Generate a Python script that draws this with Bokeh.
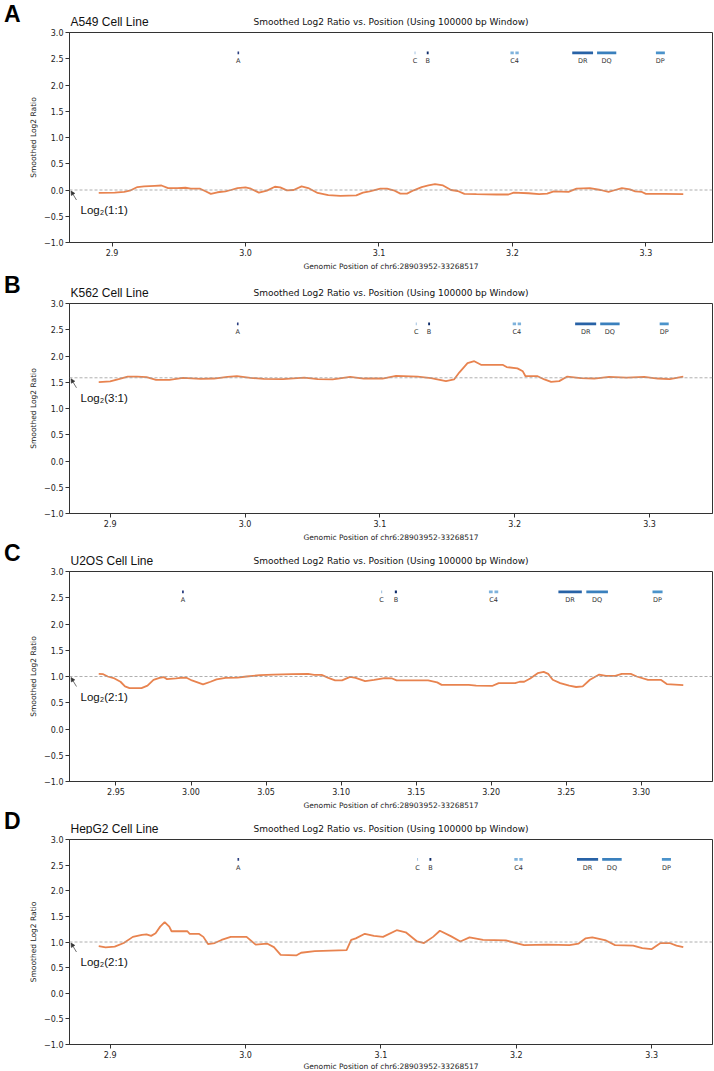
import math
from bokeh.plotting import figure
from bokeh.layouts import column
from bokeh.models import Arrow, NormalHead, FixedTicker, Range1d, Span, Label
from bokeh.core.properties import value
from bokeh.embed import file_html
from bokeh.resources import INLINE

# ---------------- data ----------------
panel_letters = ["A", "B", "C", "D"]
cell_lines = ["A549 Cell Line", "K562 Cell Line", "U2OS Cell Line", "HepG2 Cell Line"]
copy_ratios = [(1, 1), (3, 1), (2, 1), (2, 1)]
chart_title = "Smoothed Log2 Ratio vs. Position (Using 100000 bp Window)"
x_title = "Genomic Position of chr6:28903952-33268517"
y_title = "Smoothed Log2 Ratio"

y_ticks = [-1.0, -0.5, 0.0, 0.5, 1.0, 1.5, 2.0, 2.5, 3.0]
y_tick_labels = ["\u22121.0", "\u22120.5", "0.0", "0.5", "1.0", "1.5", "2.0", "2.5", "3.0"]
x_ticks_wide = [2.9, 3.0, 3.1, 3.2, 3.3]
x_tick_labels_wide = ["2.9", "3.0", "3.1", "3.2", "3.3"]
x_ticks_narrow = [2.95, 3.00, 3.05, 3.10, 3.15, 3.20, 3.25, 3.30]
x_tick_labels_narrow = ["2.95", "3.00", "3.05", "3.10", "3.15", "3.20", "3.25", "3.30"]

# gene blocks (position / 1e7)
gene_names = ["A", "C", "B", "C4", "DR", "DQ", "DP"]
gene_label_x = [2.9946, 3.1270, 3.1365, 3.2016, 3.2526, 3.2706, 3.3108]
block_start = [2.9940, 3.1266, 3.1358, 3.1985, 3.2022, 3.2448, 3.2634, 3.3075]
block_end = [2.9952, 3.1274, 3.1372, 3.2010, 3.2047, 3.2604, 3.2778, 3.3142]
block_color = ["#2b3f80", "#a8c6e3", "#0f2d6b", "#7eb2dc", "#7eb2dc", "#2862a6", "#3a80bd", "#4b93cb"]

a_x = [2.890, 2.902, 2.909, 2.914, 2.919, 2.924, 2.932, 2.937, 2.942, 2.949, 2.955, 2.959, 2.966, 2.970,
       2.974, 2.979, 2.985, 2.989, 2.994, 3.000, 3.004, 3.010, 3.016, 3.022, 3.026, 3.031, 3.036, 3.042,
       3.047, 3.054, 3.062, 3.071, 3.083, 3.088, 3.093, 3.101, 3.106, 3.111, 3.116, 3.121, 3.126, 3.132,
       3.137, 3.142, 3.148, 3.154, 3.159, 3.164, 3.173, 3.188, 3.197, 3.201, 3.212, 3.220, 3.226, 3.231,
       3.242, 3.248, 3.258, 3.266, 3.272, 3.277, 3.282, 3.288, 3.292, 3.297, 3.300, 3.314, 3.328]
a_y = [-0.056, -0.05, -0.037, -0.006, 0.056, 0.068, 0.08, 0.086, 0.037, 0.037, 0.043, 0.025, 0.025, -0.025,
       -0.074, -0.043, -0.025, 0.0, 0.037, 0.049, 0.025, -0.05, -0.012, 0.062, 0.049, -0.006, 0.0, 0.068,
       0.037, -0.056, -0.099, -0.111, -0.102, -0.05, -0.025, 0.025, 0.025, -0.006, -0.068, -0.068, -0.006, 0.056,
       0.086, 0.111, 0.086, 0.0, -0.019, -0.074, -0.080, -0.086, -0.086, -0.05, -0.062, -0.080, -0.068, -0.025,
       -0.037, 0.025, 0.037, 0.0, -0.037, 0.0, 0.037, 0.012, -0.025, -0.037, -0.074, -0.074, -0.080]

b_x = [2.8915, 2.900, 2.907, 2.913, 2.920, 2.927, 2.934, 2.944, 2.954, 2.967, 2.977, 2.987, 2.994, 3.004,
       3.014, 3.028, 3.044, 3.054, 3.065, 3.078, 3.088, 3.102, 3.112, 3.128, 3.138, 3.149, 3.155, 3.159,
       3.165, 3.170, 3.175, 3.191, 3.194, 3.202, 3.206, 3.208, 3.217, 3.222, 3.227, 3.233, 3.239, 3.249,
       3.259, 3.270, 3.283, 3.296, 3.306, 3.315, 3.325]
b_y = [1.503, 1.516, 1.565, 1.609, 1.609, 1.596, 1.547, 1.547, 1.584, 1.565, 1.571, 1.602, 1.615, 1.584,
       1.565, 1.559, 1.590, 1.559, 1.553, 1.602, 1.571, 1.571, 1.621, 1.609, 1.578, 1.522, 1.553, 1.689,
       1.863, 1.901, 1.832, 1.832, 1.789, 1.764, 1.708, 1.615, 1.615, 1.553, 1.509, 1.522, 1.609, 1.578,
       1.571, 1.602, 1.590, 1.602, 1.571, 1.559, 1.609]

c_x = [2.9385, 2.9415, 2.9445, 2.949, 2.953, 2.956, 2.959, 2.967, 2.971, 2.975, 2.979, 2.982, 2.984, 2.990,
       2.9945, 2.997, 3.0006, 3.008, 3.013, 3.017, 3.023, 3.031, 3.037, 3.046, 3.055, 3.067, 3.078, 3.082,
       3.087, 3.0915, 3.096, 3.1006, 3.106, 3.1097, 3.116, 3.122, 3.129, 3.134, 3.137, 3.158, 3.164, 3.167,
       3.185, 3.190, 3.2006, 3.205, 3.216, 3.219, 3.222, 3.226, 3.231, 3.235, 3.238, 3.241, 3.246, 3.252,
       3.2566, 3.261, 3.2658, 3.272, 3.2765, 3.2827, 3.287, 3.293, 3.297, 3.3045, 3.313, 3.317, 3.328]
c_y = [1.05, 1.044, 1.0, 0.9625, 0.90, 0.8125, 0.78, 0.78, 0.825, 0.9375, 0.975, 0.9875, 0.95, 0.9625,
       0.98, 0.975, 0.925, 0.85, 0.90, 0.944, 0.975, 0.98, 1.0, 1.025, 1.0375, 1.044, 1.05, 1.031,
       1.031, 0.975, 0.925, 0.925, 0.994, 0.975, 0.9125, 0.9375, 0.969, 0.9625, 0.925, 0.925, 0.8875, 0.84,
       0.84, 0.825, 0.82, 0.875, 0.875, 0.90, 0.90, 0.9625, 1.0625, 1.0875, 1.05, 0.9375, 0.875, 0.825,
       0.80, 0.8125, 0.9375, 1.0375, 1.0125, 1.0125, 1.05, 1.05, 1.0, 0.9375, 0.9375, 0.856, 0.8375]

d_x = [2.8915, 2.8966, 2.9033, 2.910, 2.9167, 2.9234, 2.9268, 2.9302, 2.9335, 2.9369, 2.9402, 2.9436, 2.9453,
       2.957, 2.9587, 2.9654, 2.9688, 2.9722, 2.9772, 2.9822, 2.989, 3.0007, 3.0074, 3.0158, 3.0209, 3.0259,
       3.0377, 3.041, 3.0511, 3.0746, 3.078, 3.0814, 3.0881, 3.0948, 3.1015, 3.1116, 3.1183, 3.1267, 3.1318,
       3.1385, 3.1435, 3.1519, 3.1586, 3.1654, 3.1754, 3.1922, 3.2057, 3.2225, 3.2393, 3.246, 3.251, 3.2561,
       3.2662, 3.2729, 3.2863, 3.293, 3.2998, 3.3065, 3.3132, 3.3183, 3.3233]
d_y = [0.919, 0.894, 0.91, 0.98, 1.10, 1.14, 1.15, 1.12, 1.17, 1.30, 1.39, 1.30, 1.21,
       1.21, 1.16, 1.16, 1.10, 0.96, 0.98, 1.04, 1.10, 1.10, 0.95, 0.97, 0.90, 0.75,
       0.74, 0.79, 0.82, 0.84, 1.04, 1.07, 1.16, 1.12, 1.10, 1.23, 1.19, 1.01, 0.98,
       1.10, 1.22, 1.11, 1.01, 1.09, 1.04, 1.03, 0.94, 0.95, 0.94, 0.97, 1.07, 1.09,
       1.03, 0.94, 0.93, 0.88, 0.86, 0.98, 0.98, 0.93, 0.90]

series_x = [a_x, b_x, c_x, d_x]
series_y = [a_y, b_y, c_y, d_y]
panel_ticks = [(x_ticks_wide, x_tick_labels_wide), (x_ticks_wide, x_tick_labels_wide),
               (x_ticks_narrow, x_tick_labels_narrow), (x_ticks_wide, x_tick_labels_wide)]

# ---------------- layout ----------------
W = 714
LEFT, RIGHT = 68, 2
TOP, BOTTOM = 5, 16               # panel borders above / below each frame
frame_heights = [210, 210, 210, 205]
strip_heights = [27, 40, 37, 37]  # text strips above each panel
FOOTER = 11
FRAME_W = W - LEFT - RIGHT
LINE_COLOR = "#E8834F"
AX_COLOR = "#333333"
DEJAVU = "DejaVu Sans"
ARIAL = "Liberation Sans"
FRAME_CX = LEFT + FRAME_W / 2
BASE_FIX = 3                      # baseline correction for text glyphs in the strips


def blank_strip(h):
    # same left/right borders as the panels, so that the frames line up
    s = figure(width=W, height=h, x_range=Range1d(LEFT, W - RIGHT), y_range=Range1d(0, h),
               output_backend="svg", toolbar_location=None, title=None,
               x_axis_type=None, y_axis_type="linear", min_border=0,
               min_border_left=LEFT, min_border_right=RIGHT, min_border_top=0, min_border_bottom=0)
    s.outline_line_color = None
    s.xgrid.visible = False
    s.ygrid.visible = False
    s.yaxis.axis_line_color = None
    s.yaxis.major_tick_line_color = None
    s.yaxis.minor_tick_line_color = None
    s.yaxis.major_tick_out = 0
    s.yaxis.minor_tick_out = 0
    s.yaxis.ticker = FixedTicker(ticks=[])
    return s


def header_strip(i, prev_xlabel):
    h = strip_heights[i]
    s = blank_strip(h)
    if prev_xlabel:
        s.text(x=[FRAME_CX], y=[h - 11 + BASE_FIX], text=[x_title], text_font=value(DEJAVU),
               text_font_size="7.5px", text_align="center", text_baseline="alphabetic",
               text_color="#222222")
    # panel letter, drawn as the strip's only left tick label (outside the frame)
    letter_y = 14.0
    s.yaxis.ticker = FixedTicker(ticks=[letter_y])
    s.yaxis.major_label_overrides = {letter_y: panel_letters[i]}
    s.yaxis.major_label_text_font = ARIAL
    s.yaxis.major_label_text_font_style = "bold"
    s.yaxis.major_label_text_font_size = "23px"
    s.yaxis.major_label_text_color = "black"
    s.yaxis.major_label_standoff = 49
    s.text(x=[LEFT + 1], y=[3 + BASE_FIX], text=[cell_lines[i]], text_font=value(ARIAL),
           text_font_size="12px", text_align="left", text_baseline="alphabetic",
           text_color="#111111")
    s.text(x=[FRAME_CX], y=[3 + BASE_FIX], text=[chart_title], text_font=value(DEJAVU),
           text_font_size="9px", text_align="center", text_baseline="alphabetic",
           text_color="#111111")
    return s


def make_panel(i):
    xs, ys = series_x[i], series_y[i]
    span = max(xs) - min(xs)
    x0, x1 = min(xs) - 0.05 * span, max(xs) + 0.05 * span
    fh = frame_heights[i]
    p = figure(width=W, height=TOP + fh + BOTTOM, x_range=Range1d(x0, x1), y_range=Range1d(-1, 3),
               output_backend="svg", toolbar_location=None, title=None, min_border=0,
               min_border_left=LEFT, min_border_right=RIGHT, min_border_top=TOP,
               min_border_bottom=BOTTOM)
    p.xgrid.visible = False
    p.ygrid.visible = False
    p.outline_line_color = AX_COLOR
    p.outline_line_width = 1

    xt, xl = panel_ticks[i]
    p.xaxis.ticker = FixedTicker(ticks=xt)
    p.xaxis.major_label_overrides = {t: l for t, l in zip(xt, xl)}
    p.yaxis.ticker = FixedTicker(ticks=y_ticks)
    p.yaxis.major_label_overrides = {t: l for t, l in zip(y_ticks, y_tick_labels)}
    for ax in (p.xaxis[0], p.yaxis[0]):
        ax.axis_line_color = AX_COLOR
        ax.major_tick_line_color = AX_COLOR
        ax.major_tick_out = 4
        ax.major_tick_in = 0
        ax.minor_tick_out = 0
        ax.minor_tick_in = 0
        ax.major_label_text_font = DEJAVU
        ax.major_label_text_font_size = "8px"
        ax.major_label_text_color = "#222222"
        ax.major_label_standoff = 2
    p.yaxis.axis_label = y_title
    p.yaxis.axis_label_text_font = DEJAVU
    p.yaxis.axis_label_text_font_size = "7.5px"
    p.yaxis.axis_label_text_font_style = "normal"
    p.yaxis.axis_label_text_color = "#222222"
    p.yaxis.axis_label_standoff = 3

    num, den = copy_ratios[i]
    ref = math.log2(num / den)
    p.add_layout(Span(location=ref, dimension="width", line_color="#9a9a9a",
                      line_dash="3 2", line_width=0.8))

    # gene track
    p.quad(left=block_start, right=block_end, bottom=2.585, top=2.64,
           fill_color=block_color, line_color=None)
    p.text(x=gene_label_x, y=[2.45] * len(gene_names), text=gene_names,
           text_font=value(DEJAVU), text_font_size="6.5px", text_align="center",
           text_baseline="middle", text_color="#333333")

    p.line(xs, ys, line_color=LINE_COLOR, line_width=1.8)

    # ratio annotation with arrow
    dx = (x1 - x0) / FRAME_W
    dy = 4.0 / fh
    p.add_layout(Label(x=x0, y=ref, x_offset=11, y_offset=-20,
                       text="Log\u2082(%d:%d)" % (num, den),
                       text_font=ARIAL, text_font_size="11.5px", text_color="#111111",
                       text_baseline="alphabetic"))
    p.add_layout(Arrow(end=NormalHead(size=4, fill_color="#333333", line_color="#333333",
                                      line_width=0.6),
                       x_start=x0 + 7 * dx, y_start=ref - 10 * dy,
                       x_end=x0 + 1.5 * dx, y_end=ref - 1 * dy,
                       line_color="#333333", line_width=0.7))
    return p


children = []
for i in range(4):
    children.append(header_strip(i, prev_xlabel=(i > 0)))
    children.append(make_panel(i))
footer = blank_strip(FOOTER)
footer.text(x=[FRAME_CX], y=[3 + BASE_FIX], text=[x_title], text_font=value(DEJAVU),
            text_font_size="7.5px", text_align="center", text_baseline="alphabetic",
            text_color="#222222")
children.append(footer)

layout = column(*children, spacing=0)
open("out.html", "w").write(file_html(layout, INLINE))
